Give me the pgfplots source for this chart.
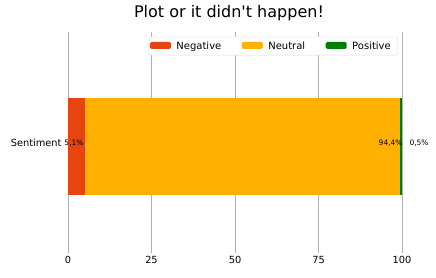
\documentclass[border=0pt]{standalone}
\usepackage{pgfplots}
\pgfplotsset{compat=1.18}
\usepackage{fontspec}
\setmainfont{DejaVu Sans}
\definecolor{cneg}{HTML}{E6450F}
\definecolor{cneu}{HTML}{FFB000}
\definecolor{cpos}{HTML}{008000}
\definecolor{cgrid}{HTML}{B0B0B0}
\begin{document}
\begin{tikzpicture}
\useasboundingbox (0,0) rectangle (436pt,277pt);
\begin{axis}[
  at={(68pt,27pt)}, anchor=south west,
  scale only axis, width=334pt, height=218pt,
  xbar stacked, bar width=97pt,
  xmin=0, xmax=100, ymin=-1.07, ymax=1.18,
  xtick={0,25,50,75,100},
  ytick={0}, yticklabels={Sentiment},
  yticklabel style={yshift=3pt},
  extra y ticks={1.18}, extra y tick labels={},
  extra y tick style={major tick length=4pt, tick style={black, line width=0.8pt}, grid=none},
  /pgf/number format/assume math mode=true,
  ticklabel style={font=\fontsize{9.8}{11}\selectfont, text=black},
  x tick style={cgrid, line width=0.8pt},
  y tick style={draw=none},
  major tick length=3pt,
  tick align=outside,
  xtick pos=bottom, ytick pos=left,
  xmajorgrids, grid style={cgrid, line width=0.8pt},
  axis line style={draw=none},
  axis x line*=bottom, axis y line*=left,
  clip=false,
  title={Plot or it didn\textquotesingle t happen!},
  title style={font=\fontsize{16}{18}\selectfont, at={(0.482,1)}, anchor=south, yshift=2pt},
  legend style={at={(0.988,0.978)}, anchor=north east, legend columns=3,
    font=\fontsize{10}{12}\selectfont, draw=black!15, rounded corners=1.5pt,
    inner xsep=1.5pt, inner ysep=2.5pt,
    nodes={inner xsep=5.5pt},
    /tikz/every even column/.append style={column sep=15pt}},
  legend image code/.code={\fill[#1] (0pt,-2.8pt) rectangle (21pt,4.2pt);},
  after end axis/.code={
    \node[font=\fontsize{7.5}{8}\selectfont, yshift=3pt] at (axis cs:1.8,0) {5,1\%};
    \node[font=\fontsize{7.5}{8}\selectfont, yshift=3pt] at (axis cs:96.6,0) {94,4\%};
    \node[font=\fontsize{7.5}{8}\selectfont, yshift=3pt] at (axis cs:105.1,0) {0,5\%};
  },
]
\addplot[fill=cneg, draw=none] coordinates {(5.1,0)};
\addplot[fill=cneu, draw=none] coordinates {(94.4,0)};
\addplot[fill=cpos, draw=none] coordinates {(0.5,0)};
\legend{Negative, Neutral, Positive}
\end{axis}
\end{tikzpicture}
\end{document}
